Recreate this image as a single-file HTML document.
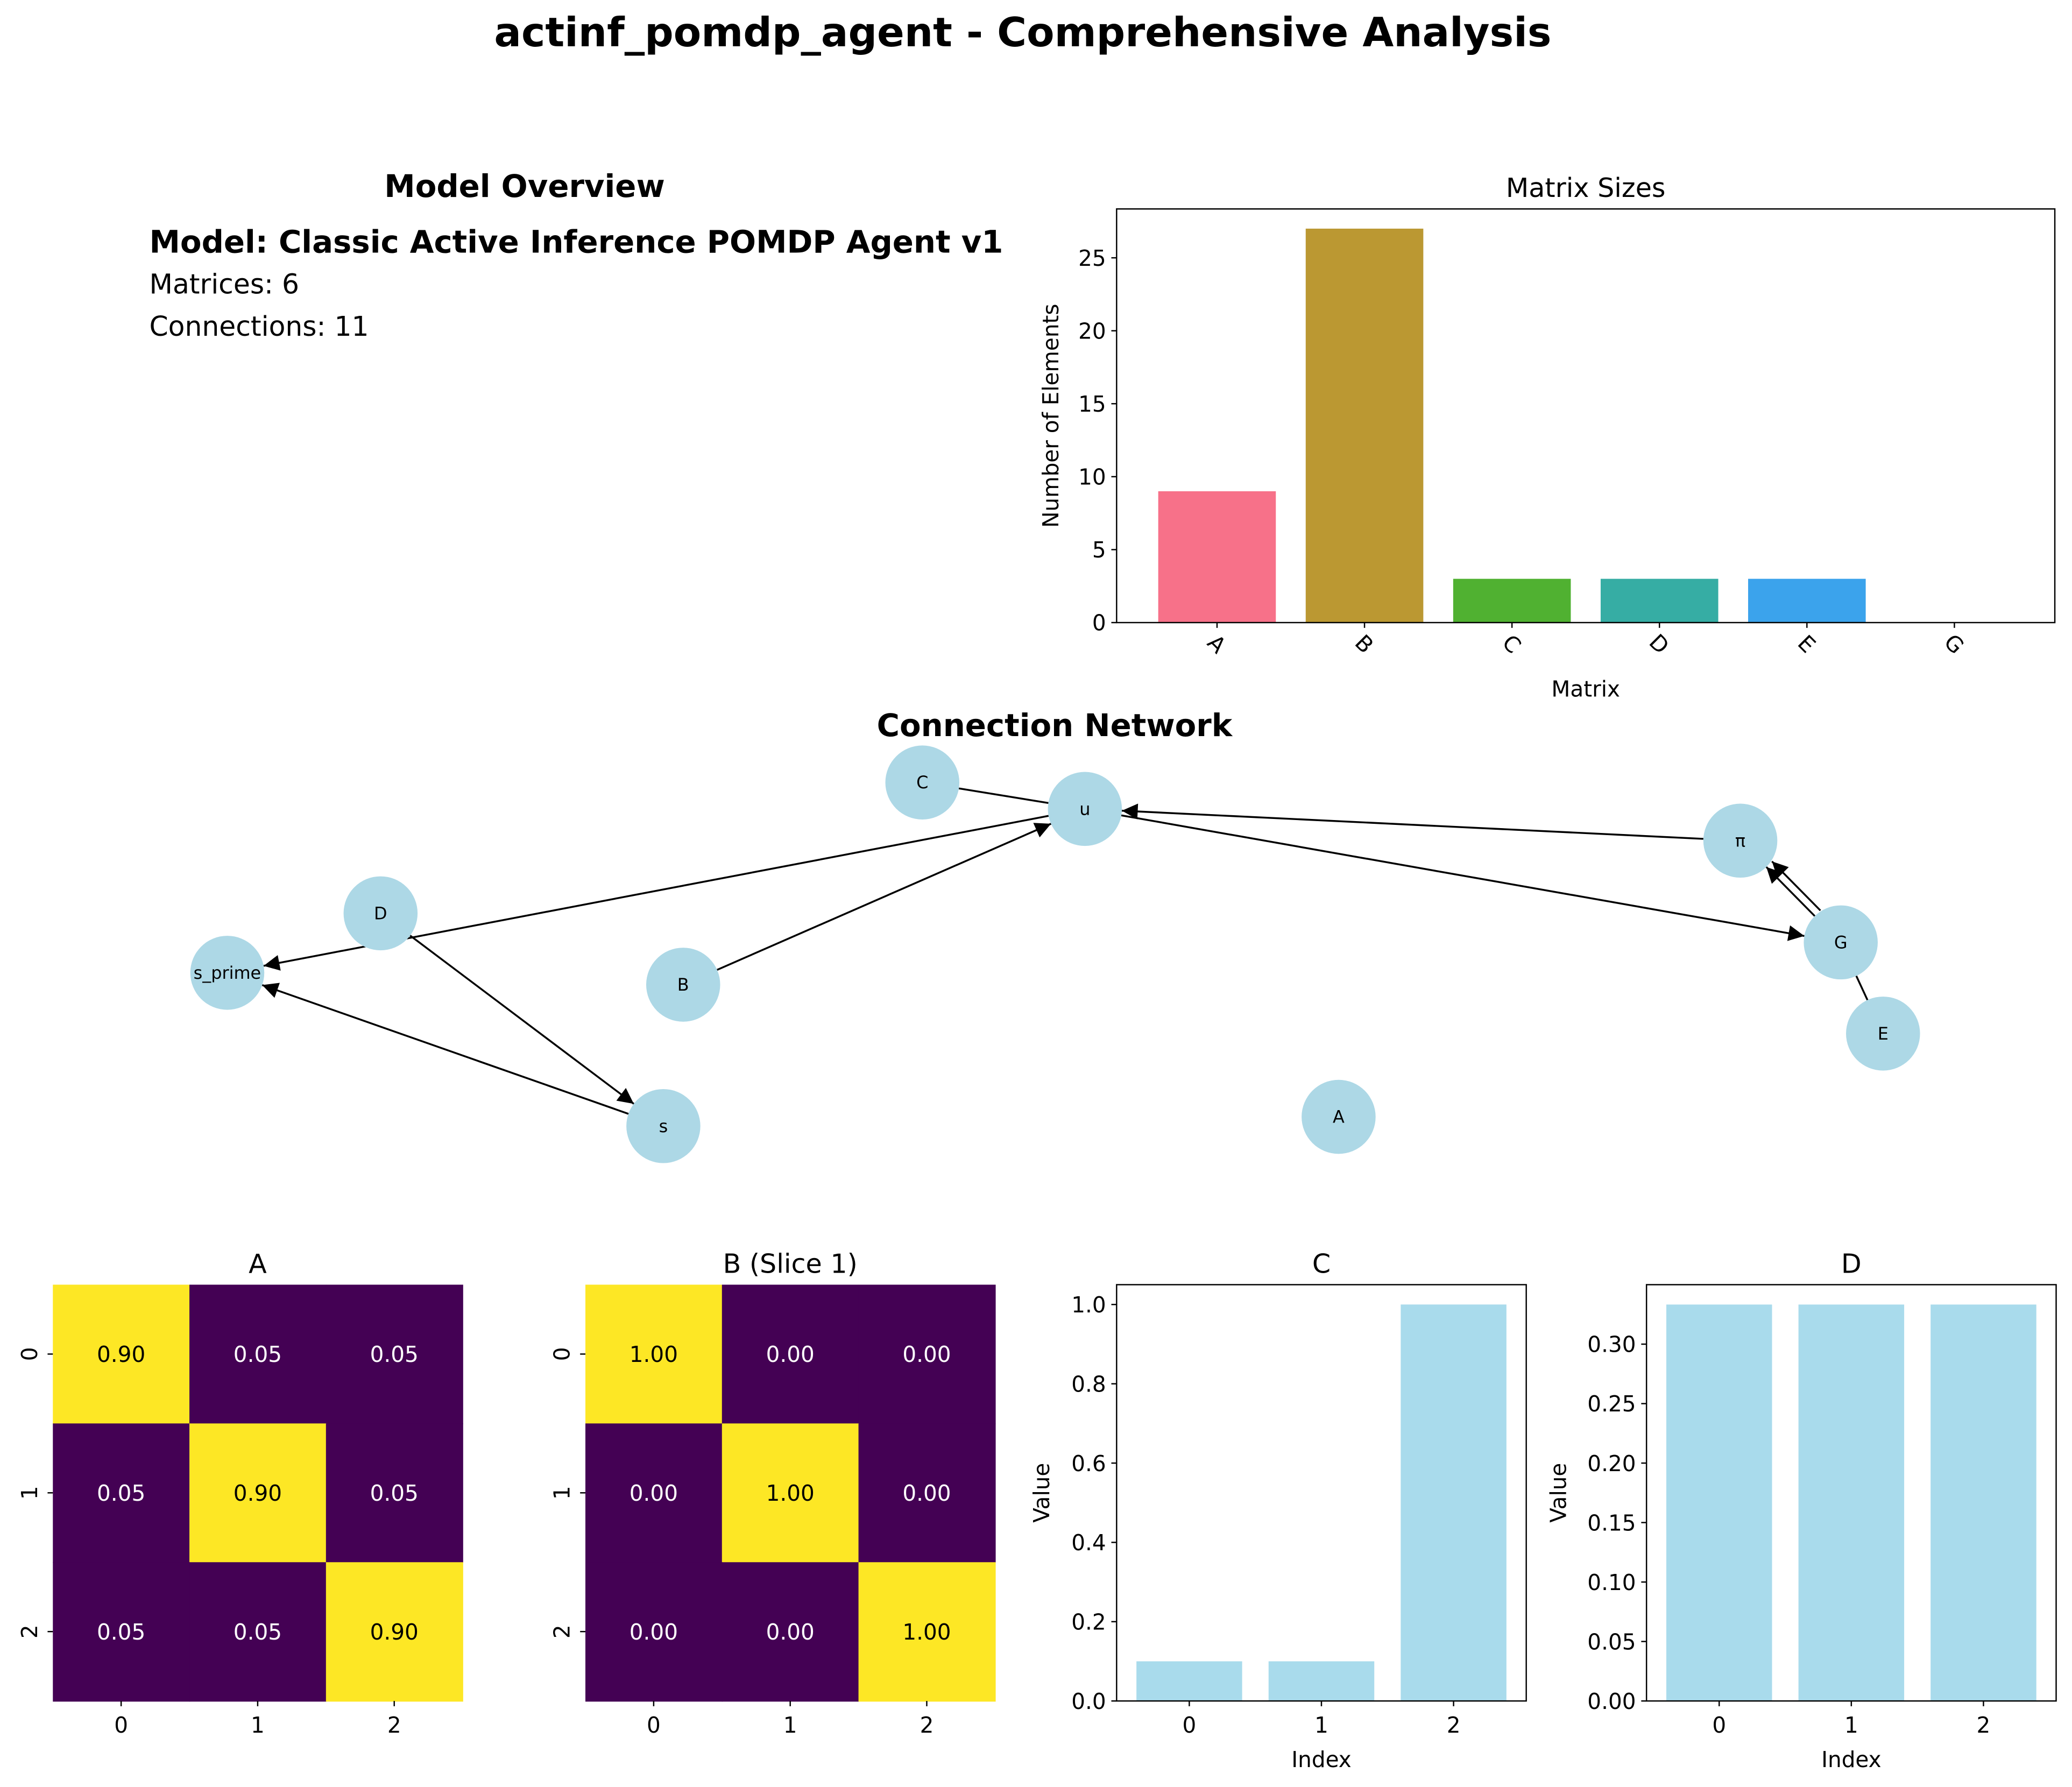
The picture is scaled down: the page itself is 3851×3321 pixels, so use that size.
<!DOCTYPE html>
<html><head><meta charset="utf-8"><style>
html,body{margin:0;padding:0;background:#fff}
svg{display:block;font-family:"DejaVu Sans","Liberation Sans",sans-serif}
</style></head><body>
<svg id="fig" width="3851" height="3321" viewBox="0 0 1568 1352" xmlns="http://www.w3.org/2000/svg">
<defs><marker id="arr" viewBox="0 0 10 10" refX="10" refY="5" markerWidth="14" markerHeight="12" markerUnits="userSpaceOnUse" orient="auto"><path d="M0,0 L10,5 L0,10 z" fill="#000"/></marker></defs>
<text x="774" y="35" text-anchor="middle" font-size="30.5" font-weight="bold">actinf_pomdp_agent - Comprehensive Analysis</text>
<g>
<text x="397" y="149" text-anchor="middle" font-size="23.5" font-weight="bold">Model Overview</text>
<text x="113" y="191" font-size="23.5" font-weight="bold">Model: Classic Active Inference POMDP Agent v1</text>
<text x="113" y="222" font-size="20.5">Matrices: 6</text>
<text x="113" y="254" font-size="20.5">Connections: 11</text>
</g>
<g id="sizes"></g>
<g id="net"></g>
<g id="heat"></g>
<g id="vec"></g>
</svg>
<script>
const NS="http://www.w3.org/2000/svg";
const sizeCats=["A","B","C","D","E","G"];
const sizeVals=[9,27,3,3,3,0];
const sizeTicks=[0,5,10,15,20,25];
const sizeColors=["#f77189","#bb9832","#50b131","#36ada4","#3ba3ec","#e866f4"];
const nodeNames=["C","u","π","D","G","s_prime","B","E","s","A"];
const nodeX=[698,821,1317,288,1393,172,517,1425,502,1013];
const nodeY=[592,612,636,691,713,736,745,782,852,845];
const edgeFrom=["C","u","B","u","π","G","G","E","D","s"];
const edgeTo=["u","s_prime","u","G","u","π","π","G","s","s_prime"];
const edgeArrow=[false,true,true,true,true,true,true,false,true,true];
const matA=[[0.9,0.05,0.05],[0.05,0.9,0.05],[0.05,0.05,0.9]];
const matB=[[1,0,0],[0,1,0],[0,0,1]];
const vecC=[0.1,0.1,1.0];
const vecD=[0.3333,0.3333,0.3333];
const cTicks=[0,0.2,0.4,0.6,0.8,1.0];
const dTicks=[0,0.05,0.1,0.15,0.2,0.25,0.3];
const FS=16.5;

function el(p,t,a,txt){const e=document.createElementNS(NS,t);for(const k in a)e.setAttribute(k,a[k]);if(txt!==undefined)e.textContent=txt;p.appendChild(e);return e;}

(function(){
 const g=document.getElementById('sizes');
 const L=845,R=1555,T=158,B=471,ymax=28.35;
 const xs=i=>921+111.6*i, ys=v=>B-(B-T)*v/ymax, bw=89;
 sizeVals.forEach((v,i)=>{const r=el(g,'rect',{x:xs(i)-bw/2,y:ys(v),width:bw,height:B-ys(v),fill:sizeColors[i]});
  
  
  el(g,'line',{x1:xs(i),x2:xs(i),y1:B,y2:B+4,stroke:'#000'});
  const t=el(g,'text',{x:xs(i),y:B+22,'font-size':FS,'text-anchor':'middle',transform:`rotate(45 ${xs(i)} ${B+16})`},sizeCats[i]);
  
  });
 sizeTicks.forEach(v=>{el(g,'line',{x1:L-4,x2:L,y1:ys(v),y2:ys(v),stroke:'#000'});
  const t=el(g,'text',{x:L-8,y:ys(v)+6,'font-size':FS,'text-anchor':'end'},v);
  
  });
 el(g,'rect',{x:L,y:T,width:R-L,height:B-T,fill:'none',stroke:'#000','stroke-width':1});
 el(g,'text',{x:(L+R)/2,y:T-9,'font-size':20,'text-anchor':'middle'},'Matrix Sizes');
 el(g,'text',{x:(L+R)/2,y:527,'font-size':FS,'text-anchor':'middle'},'Matrix');
 el(g,'text',{x:801,y:(T+B)/2,'font-size':FS,'text-anchor':'middle',transform:`rotate(-90 801 ${(T+B)/2})`},'Number of Elements');
})();

(function(){
 const g=document.getElementById('net');
 el(g,'text',{x:798,y:557,'font-size':23.5,'font-weight':'bold','text-anchor':'middle'},'Connection Network');
 const idx=n=>nodeNames.indexOf(n), r=28;
 edgeFrom.forEach((f,i)=>{const a=idx(f),b=idx(edgeTo[i]);
  const dx=nodeX[b]-nodeX[a],dy=nodeY[b]-nodeY[a],d=Math.hypot(dx,dy),ux=dx/d,uy=dy/d;
  const off=(f==='G'&&i===6)?6:0;
  const attrs={x1:nodeX[a]+ux*r-uy*off,y1:nodeY[a]+uy*r+ux*off,x2:nodeX[b]-ux*r-uy*off,y2:nodeY[b]-uy*r+ux*off,stroke:'#000','stroke-width':1.4};
  if(edgeArrow[i])attrs['marker-end']='url(#arr)';
  const l=el(g,'line',attrs);
  
  });
 nodeNames.forEach((n,i)=>{const c=el(g,'circle',{cx:nodeX[i],cy:nodeY[i],r:r,fill:'#add8e6'});
  
  
  el(g,'text',{x:nodeX[i],y:nodeY[i]+4.5,'font-size':13,'text-anchor':'middle'},n);});
})();

function heat(mat,L,title,name){
 const g=document.getElementById('heat');const T=972,W=310,H=315,cw=W/3,ch=H/3;
 const grp=el(g,'g',{});
 
 
 mat.forEach((row,i)=>row.forEach((v,j)=>{const hi=v>0.5;
  const r=el(grp,'rect',{x:L+j*cw,y:T+i*ch,width:cw+0.5,height:ch+0.5,fill:hi?'#fde725':'#440154'});
  
  
  el(grp,'text',{x:L+j*cw+cw/2,y:T+i*ch+ch/2+6,'font-size':FS,'text-anchor':'middle',fill:hi?'#000':'#fff'},v.toFixed(2));}));
 for(let k=0;k<3;k++){el(grp,'line',{x1:L+k*cw+cw/2,x2:L+k*cw+cw/2,y1:T+H,y2:T+H+4,stroke:'#000'});
  el(grp,'text',{x:L+k*cw+cw/2,y:T+H+24,'font-size':FS,'text-anchor':'middle'},k);
  el(grp,'line',{x1:L-4,x2:L,y1:T+k*ch+ch/2,y2:T+k*ch+ch/2,stroke:'#000'});
  el(grp,'text',{x:L-12,y:T+k*ch+ch/2,'font-size':FS,'text-anchor':'middle',transform:`rotate(-90 ${L-12} ${T+k*ch+ch/2})`},k);}
 el(grp,'text',{x:L+W/2,y:T-9,'font-size':20,'text-anchor':'middle'},title);
}
heat(matA,40,'A','heatmap-A');
heat(matB,443,'B (Slice 1)','heatmap-B');

function vbar(vals,ticks,ymax,L,title,name,dec,lx){
 const g=document.getElementById('vec');const T=972,B=1287,W=310;
 const grp=el(g,'g',{});
 
 
 const bw=W/3.1*0.8;
 const xc=i=>L+W*(i+0.55)/3.1, ys=v=>B-(B-T)*v/ymax;
 vals.forEach((v,i)=>{const r=el(grp,'rect',{x:xc(i)-bw/2,y:ys(v),width:bw,height:B-ys(v),fill:'#a9dbec'});
  
  
  el(grp,'line',{x1:xc(i),x2:xc(i),y1:B,y2:B+4,stroke:'#000'});
  el(grp,'text',{x:xc(i),y:B+24,'font-size':FS,'text-anchor':'middle'},i);});
 ticks.forEach(v=>{el(grp,'line',{x1:L-4,x2:L,y1:ys(v),y2:ys(v),stroke:'#000'});
  el(grp,'text',{x:L-8,y:ys(v)+6,'font-size':FS,'text-anchor':'end'},v.toFixed(dec));});
 el(grp,'rect',{x:L,y:T,width:W,height:B-T,fill:'none',stroke:'#000'});
 el(grp,'text',{x:L+W/2,y:T-9,'font-size':20,'text-anchor':'middle'},title);
 el(grp,'text',{x:L+W/2,y:1337,'font-size':FS,'text-anchor':'middle'},'Index');
 el(grp,'text',{x:lx,y:(T+B)/2,'font-size':FS,'text-anchor':'middle',transform:`rotate(-90 ${lx} ${(T+B)/2})`},'Value');
}
vbar(vecC,cTicks,1.05,845,'C','vector-C-chart',1,794);
vbar(vecD,dTicks,0.35,1246,'D','vector-D-chart',2,1185);
</script>
</body></html>
